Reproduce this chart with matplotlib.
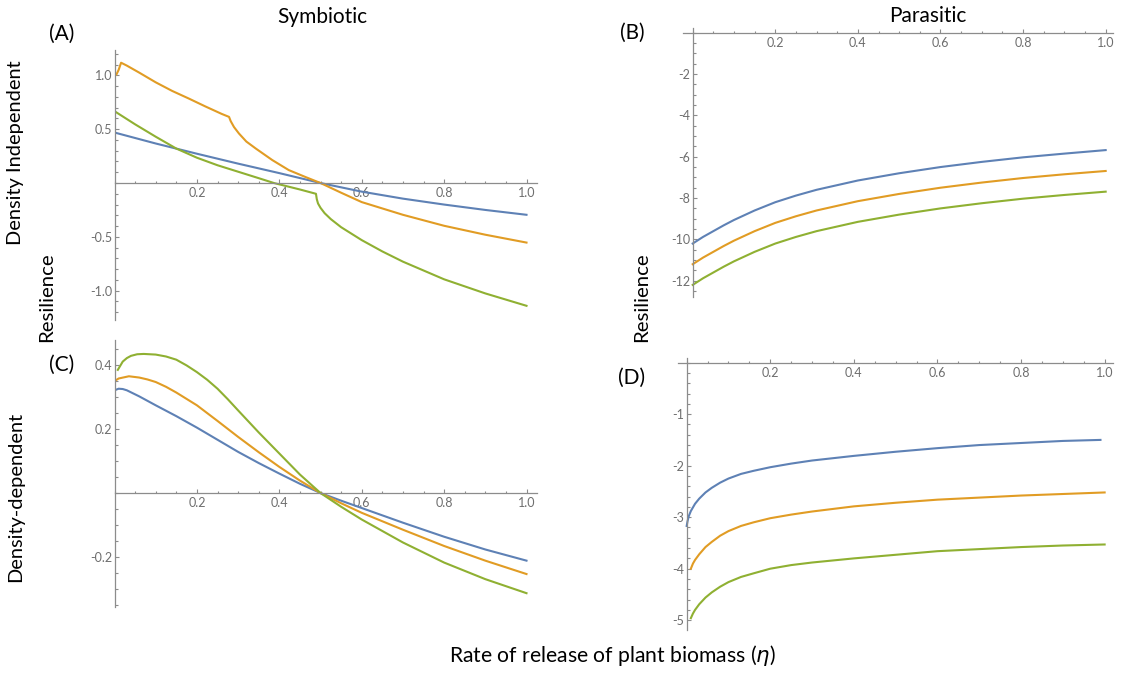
import matplotlib
matplotlib.use("Agg")
import matplotlib.pyplot as plt
from matplotlib.ticker import FixedLocator, MultipleLocator

plt.rcParams['font.family'] = ['Lato', 'DejaVu Sans']
plt.rcParams['axes.unicode_minus'] = False
plt.rcParams['mathtext.fontset'] = 'dejavusans'

BLUE = '#5E81B5'
ORANGE = '#E19C24'
GREEN = '#8FB032'
AXC = '#8c8c8c'
TXC = '#6e6e6e'

# ---- panel A: symbiotic, density independent ----
a_blue_x = [0, 0.1, 0.2, 0.3, 0.4, 0.5, 0.6, 0.7, 0.8, 0.9, 1.0]
a_blue_y = [0.469, 0.367, 0.272, 0.18, 0.092, 0.0, -0.08, -0.145, -0.2, -0.25, -0.295]
a_orange_x = [0, 0.005, 0.01, 0.016, 0.03, 0.06, 0.1, 0.14, 0.18, 0.22, 0.26, 0.278, 0.282,
              0.29, 0.302, 0.32, 0.343, 0.383, 0.423, 0.464, 0.5, 0.55, 0.6, 0.7, 0.8, 0.9, 1.0]
a_orange_y = [0.994, 1.01, 1.05, 1.117, 1.09, 1.025, 0.935, 0.855, 0.785, 0.712, 0.642, 0.614, 0.575,
              0.52, 0.46, 0.385, 0.32, 0.213, 0.12, 0.055, 0.0, -0.09, -0.177, -0.295, -0.397, -0.48, -0.553]
a_green_x = [0, 0.05, 0.1, 0.15, 0.2, 0.25, 0.3, 0.35, 0.387, 0.45, 0.489, 0.491, 0.494, 0.5,
             0.51, 0.525, 0.55, 0.6, 0.65, 0.7, 0.8, 0.9, 1.0]
a_green_y = [0.667, 0.545, 0.43, 0.32, 0.235, 0.165, 0.105, 0.045, 0.0, -0.06, -0.10, -0.15,
             -0.19, -0.23, -0.28, -0.335, -0.41, -0.53, -0.635, -0.73, -0.894, -1.025, -1.14]

# ---- panel B: parasitic, density independent ----
b_x = [0, 0.025, 0.05, 0.075, 0.1, 0.15, 0.2, 0.25, 0.3, 0.4, 0.5, 0.6, 0.7, 0.8, 0.9, 1.0]
b_blue = [-10.2, -9.88, -9.6, -9.32, -9.06, -8.6, -8.2, -7.88, -7.6, -7.15, -6.8, -6.5, -6.25, -6.03, -5.85, -5.68]
b_orange = [-11.2, -10.88, -10.6, -10.32, -10.06, -9.6, -9.2, -8.88, -8.6, -8.15, -7.8, -7.5, -7.25, -7.03, -6.85, -6.69]
b_green = [-12.2, -11.88, -11.6, -11.32, -11.06, -10.6, -10.2, -9.88, -9.6, -9.15, -8.8, -8.5, -8.25, -8.03, -7.85, -7.69]

# ---- panel C: symbiotic, density dependent ----
c_blue_x = [0, 0.01, 0.02, 0.03, 0.06, 0.1, 0.15, 0.2, 0.25, 0.3, 0.35, 0.4, 0.45, 0.5, 0.55, 0.6,
            0.7, 0.8, 0.9, 1.0]
c_blue_y = [0.322, 0.327, 0.326, 0.322, 0.303, 0.275, 0.241, 0.205, 0.167, 0.129, 0.094, 0.061, 0.029,
            0.0, -0.024, -0.047, -0.093, -0.137, -0.177, -0.212]
c_orange_x = [0, 0.01, 0.035, 0.06, 0.08, 0.1, 0.125, 0.15, 0.2, 0.25, 0.3, 0.35, 0.4, 0.45, 0.5,
              0.55, 0.6, 0.7, 0.8, 0.9, 1.0]
c_orange_y = [0.351, 0.359, 0.366, 0.362, 0.356, 0.348, 0.333, 0.315, 0.275, 0.226, 0.176, 0.128, 0.082,
              0.039, 0.0, -0.032, -0.062, -0.115, -0.166, -0.212, -0.254]
c_green_x = [0.008, 0.02, 0.03, 0.04, 0.055, 0.071, 0.1, 0.125, 0.15, 0.175, 0.2, 0.225, 0.25, 0.275,
             0.3, 0.35, 0.4, 0.45, 0.5, 0.55, 0.6, 0.7, 0.8, 0.9, 1.0]
c_green_y = [0.386, 0.412, 0.423, 0.43, 0.435, 0.436, 0.434, 0.428, 0.418, 0.40, 0.379, 0.355, 0.327,
             0.294, 0.259, 0.19, 0.124, 0.058, 0.0, -0.043, -0.083, -0.155, -0.218, -0.27, -0.314]

# ---- panel D: parasitic, density dependent ----
d_blue_x = [0, 0.002, 0.005, 0.01, 0.02, 0.03, 0.045, 0.06, 0.08, 0.1, 0.13, 0.16, 0.2, 0.25, 0.3,
            0.4, 0.5, 0.6, 0.7, 0.8, 0.9, 0.99]
d_blue_y = [-3.17, -3.08, -2.98, -2.88, -2.74, -2.64, -2.52, -2.43, -2.33, -2.25, -2.16, -2.1, -2.03,
            -1.96, -1.9, -1.81, -1.73, -1.66, -1.6, -1.56, -1.52, -1.5]
d_x = [0.01, 0.015, 0.02, 0.03, 0.045, 0.06, 0.08, 0.1, 0.13, 0.16, 0.2, 0.25, 0.3,
       0.4, 0.5, 0.6, 0.7, 0.8, 0.9, 1.0]
d_orange_y = [-4.0, -3.9, -3.83, -3.72, -3.58, -3.48, -3.36, -3.27, -3.17, -3.1, -3.02, -2.95, -2.89,
              -2.79, -2.72, -2.66, -2.62, -2.58, -2.55, -2.52]
d_green_y = [-4.96, -4.87, -4.8, -4.69, -4.56, -4.46, -4.35, -4.26, -4.16, -4.09, -4.0, -3.93, -3.88,
             -3.8, -3.73, -3.66, -3.62, -3.58, -3.55, -3.53]

x_major = [0.2, 0.4, 0.6, 0.8, 1.0]
x_labels = ['0.2', '0.4', '0.6', '0.8', '1.0']

W, H = 1131, 674
fig = plt.figure(figsize=(W / 100, H / 100), dpi=100)


def make_ax(x0, x1, ytop, ybot, xlim, ylim):
    ax = fig.add_axes([x0 / W, 1 - ybot / H, (x1 - x0) / W, (ybot - ytop) / H])
    ax.set_xlim(*xlim)
    ax.set_ylim(*ylim)
    for s in ['top', 'right']:
        ax.spines[s].set_visible(False)
    for s in ['left', 'bottom']:
        ax.spines[s].set_position(('data', 0))
        ax.spines[s].set_color(AXC)
        ax.spines[s].set_linewidth(0.9)
    ax.patch.set_alpha(0)
    ax.tick_params(which='both', direction='in', colors=AXC, labelcolor=TXC,
                   labelsize=9, width=0.8)
    ax.tick_params(which='major', length=3.2, pad=3)
    ax.tick_params(which='minor', length=1.8)
    ax.xaxis.set_major_locator(FixedLocator(x_major))
    ax.set_xticklabels(x_labels)
    ax.xaxis.set_minor_locator(MultipleLocator(0.05))
    return ax


def ylabels(ax, vals, fmt, minor):
    ax.yaxis.set_major_locator(FixedLocator(vals))
    ax.set_yticklabels([fmt.format(v) for v in vals])
    ax.yaxis.set_minor_locator(MultipleLocator(minor))
    ax.tick_params(axis='y', which='major', pad=1.5)


kw = dict(lw=1.5, solid_joinstyle='round')

# A
axA = make_ax(114.5, 536.8, 49.9, 319.8, (0, 1.025), (-1.27, 1.236))
ylabels(axA, [-1.0, -0.5, 0.5, 1.0], '{:.1f}', 0.1)
axA.plot(a_blue_x, a_blue_y, color=BLUE, **kw)
axA.plot(a_orange_x, a_orange_y, color=ORANGE, **kw)
axA.plot(a_green_x, a_green_y, color=GREEN, **kw)

# C
axC = make_ax(114.5, 536.8, 339.9, 606.9, (0, 1.025), (-0.357, 0.48))
ylabels(axC, [-0.2, 0.2, 0.4], '{:.1f}', 0.05)
axC.plot(c_blue_x, c_blue_y, color=BLUE, **kw)
axC.plot(c_orange_x, c_orange_y, color=ORANGE, **kw)
axC.plot(c_green_x, c_green_y, color=GREEN, **kw)

# B
axB = make_ax(683.2, 1113.1, 27.5, 297.3, (-0.023, 1.018), (-12.8, 0.25))
ylabels(axB, [-12, -10, -8, -6, -4, -2], '{:d}', 0.5)
axB.plot(b_x, b_blue, color=BLUE, **kw)
axB.plot(b_x, b_orange, color=ORANGE, **kw)
axB.plot(b_x, b_green, color=GREEN, **kw)

# D
axD = make_ax(677.7, 1113.0, 358.0, 630.0, (-0.0215, 1.02), (-5.19, 0.09))
ylabels(axD, [-5, -4, -3, -2, -1], '{:d}', 0.2)
axD.plot(d_blue_x, d_blue_y, color=BLUE, **kw)
axD.plot(d_x, d_orange_y, color=ORANGE, **kw)
axD.plot(d_x, d_green_y, color=GREEN, **kw)


def ftext(xp, yp, s, size, rot=0):
    fig.text(xp / W, 1 - yp / H, s, fontsize=size, rotation=rot,
             ha='center', va='center', color='black')


ftext(322, 17, 'Symbiotic', 15)
ftext(928, 16, 'Parasitic', 15)
ftext(62, 34, '(A)', 15)
ftext(632, 33, '(B)', 15)
ftext(62, 365, '(C)', 15)
ftext(632, 378, '(D)', 15)
ftext(16, 153, 'Density Independent', 14.4, 90)
ftext(47, 297, 'Resilience', 14.7, 90)
ftext(642, 297, 'Resilience', 14.7, 90)
ftext(16, 497, 'Density-dependent', 14.4, 90)
ftext(612, 656, r'Rate of release of plant biomass ($\eta$)', 15.2)

fig.savefig('out.png', dpi=100)
